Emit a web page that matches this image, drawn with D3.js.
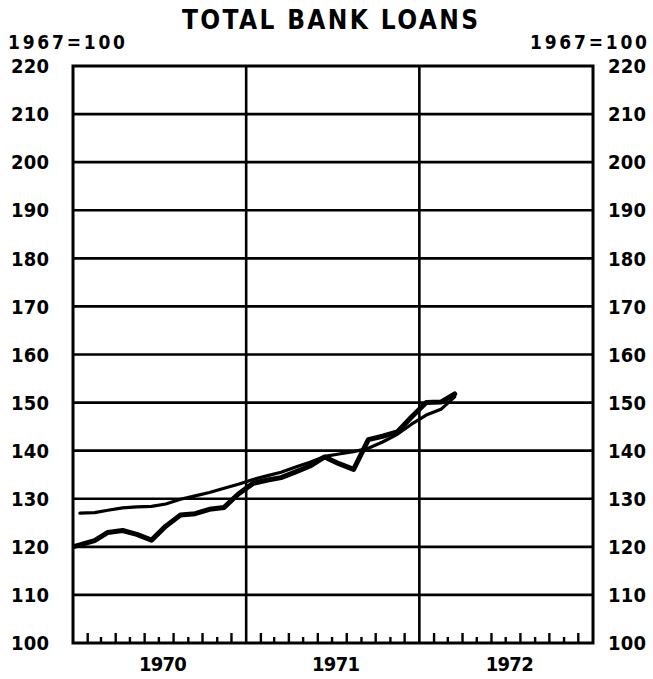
<!DOCTYPE html>
<html>
<head>
<meta charset="utf-8">
<script src="https://cdn.jsdelivr.net/npm/d3@7/dist/d3.min.js"></script>
<style>
  html, body { margin: 0; padding: 0; background: #fff; }
  svg { display: block; }
  text { font-family: "DejaVu Sans Condensed", "DejaVu Sans", sans-serif; font-stretch: condensed; font-weight: bold; fill: #000; }
</style>
</head>
<body>
<script>
// Total bank loans, monthly index (1967 = 100)
const months = [
  "1969-12",
  "1970-01","1970-02","1970-03","1970-04","1970-05","1970-06",
  "1970-07","1970-08","1970-09","1970-10","1970-11","1970-12",
  "1971-01","1971-02","1971-03","1971-04","1971-05","1971-06",
  "1971-07","1971-08","1971-09","1971-10","1971-11","1971-12",
  "1972-01","1972-02","1972-03"
];
// heavy line
const seriesHeavy = [
  119.6,
  120.4, 121.3, 123.0, 123.4, 122.6, 121.4,
  124.3, 126.6, 126.9, 127.8, 128.2, 131.0,
  133.2, 133.9, 134.4, 135.6, 136.8, 138.7,
  137.3, 136.1, 142.3, 143.0, 143.9, 147.0,
  150.0, 150.1, 151.8
];
// light line (starts January 1970)
const seriesLight = [
  null,
  127.0, 127.1, 127.6, 128.1, 128.3, 128.4,
  128.9, 129.9, 130.6, 131.3, 132.2, 133.0,
  134.0, 134.8, 135.5, 136.6, 137.6, 138.8,
  139.3, 139.8, 140.5, 141.8, 143.4, 145.5,
  147.4, 148.6, 151.2
];
const yTicks = [100, 110, 120, 130, 140, 150, 160, 170, 180, 190, 200, 210, 220];
const years = ["1970", "1971", "1972"];
const title = "TOTAL BANK LOANS";
const unitLabel = "1967=100";

const W = 653, H = 679;
const margin = { top: 66, right: 60, bottom: 36, left: 73 };
const x0 = margin.left, x1 = W - margin.right, y0 = margin.top, y1 = H - margin.bottom;

const svg = d3.select("body").append("svg").attr("width", W).attr("height", H);

const parseMonth = d3.timeParse("%Y-%m");
const midMonth = s => { const d = parseMonth(s); return new Date(d.getFullYear(), d.getMonth(), 15, 12); };

const x = d3.scaleTime()
  .domain([new Date(+years[0], 0, 1), new Date(+years[years.length - 1] + 1, 0, 1)])
  .range([x0, x1]);
const y = d3.scaleLinear().domain([100, 220]).range([y1, y0]);

// title and unit labels (spaced lettering)
svg.append("text").attr("x", 330).attr("y", 29).attr("text-anchor", "middle")
  .attr("font-size", 26).attr("textLength", 296).attr("lengthAdjust", "spacing").text(title);
svg.append("text").attr("x", 8).attr("y", 49).attr("font-size", 19)
  .attr("textLength", 117).attr("lengthAdjust", "spacing").text(unitLabel);
svg.append("text").attr("x", 530).attr("y", 49).attr("font-size", 19)
  .attr("textLength", 117).attr("lengthAdjust", "spacing").text(unitLabel);

// horizontal grid
svg.append("g").selectAll("line").data(yTicks.slice(1, -1)).join("line")
  .attr("x1", x0).attr("x2", x1).attr("y1", d => y(d)).attr("y2", d => y(d))
  .attr("stroke", "#000").attr("stroke-width", 2.6);

// year dividers
const yearStarts = years.slice(1).map(v => new Date(+v, 0, 1));
svg.append("g").selectAll("line").data(yearStarts).join("line")
  .attr("x1", d => x(d)).attr("x2", d => x(d)).attr("y1", y0).attr("y2", y1)
  .attr("stroke", "#000").attr("stroke-width", 2.6);

// month ticks along the bottom
const monthTicks = x.ticks(d3.timeMonth.every(1)).filter(d => d.getMonth() !== 0);
svg.append("g").selectAll("line").data(monthTicks).join("line")
  .attr("x1", d => x(d)).attr("x2", d => x(d))
  .attr("y1", y1).attr("y2", d => y1 - (d.getMonth() % 2 === 1 ? 10 : 6))
  .attr("stroke", "#000").attr("stroke-width", 2.4);

// frame
svg.append("rect").attr("x", x0).attr("y", y0).attr("width", x1 - x0).attr("height", y1 - y0)
  .attr("fill", "none").attr("stroke", "#000").attr("stroke-width", 3);

// y labels, both sides
const yl = svg.append("g").attr("font-size", 20);
yl.selectAll("text.l").data(yTicks).join("text").attr("class", "l")
  .attr("x", 49).attr("y", d => y(d)).attr("dy", "0.36em").attr("text-anchor", "end")
  .attr("textLength", 38).attr("lengthAdjust", "spacing").text(d => d);
yl.selectAll("text.r").data(yTicks).join("text").attr("class", "r")
  .attr("x", 608).attr("y", d => y(d)).attr("dy", "0.36em").attr("text-anchor", "start")
  .attr("textLength", 38).attr("lengthAdjust", "spacing").text(d => d);

// year labels
svg.append("g").selectAll("text").data(years).join("text")
  .attr("x", d => x(new Date(+d, 6, 1)) + 4).attr("y", 671).attr("text-anchor", "middle")
  .attr("font-size", 20).attr("textLength", 48).attr("lengthAdjust", "spacing").text(d => d);

// series
svg.append("clipPath").attr("id", "plot-clip").append("rect")
  .attr("x", x0).attr("y", y0).attr("width", x1 - x0).attr("height", y1 - y0);

const pts = vals => months.map((m, i) => ({ date: midMonth(m), v: vals[i] })).filter(p => p.v != null);
const line = d3.line().x(p => x(p.date)).y(p => y(p.v));

const plot = svg.append("g").attr("clip-path", "url(#plot-clip)");
plot.append("path").datum(pts(seriesLight)).attr("d", line)
  .attr("fill", "none").attr("stroke", "#000").attr("stroke-width", 3.2)
  .attr("stroke-linejoin", "round").attr("stroke-linecap", "round");
plot.append("path").datum(pts(seriesHeavy)).attr("d", line)
  .attr("fill", "none").attr("stroke", "#000").attr("stroke-width", 5)
  .attr("stroke-linejoin", "round").attr("stroke-linecap", "round");
</script>
</body>
</html>
